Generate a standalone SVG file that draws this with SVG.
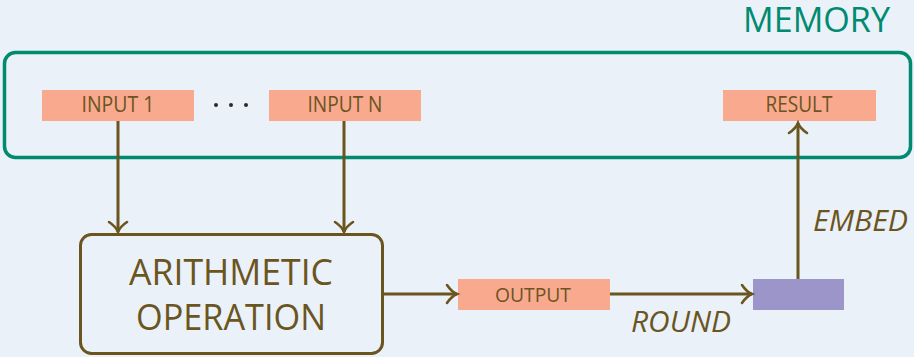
<svg xmlns="http://www.w3.org/2000/svg" width="914" height="357" viewBox="0 0 914 357">
  <style>
    .lbl { font-family: "Open Sans", "Noto Sans", sans-serif; fill: #6b551f; }
    .cell { fill: #f9a98e; }
    .wire { stroke: #6b551f; stroke-width: 3; fill: none; }
  </style>
  <defs>
    <marker id="tip" markerUnits="userSpaceOnUse" markerWidth="24" markerHeight="24" viewBox="-12 -12 24 24" refX="0" refY="0" orient="auto">
      <path d="M-10,-9 C-6,-3 -2,-0.8 0,0 C-2,0.8 -6,3 -10,9" stroke="#6b551f" stroke-width="2.6" fill="none" stroke-linecap="round"/>
    </marker>
  </defs>
  <rect x="0" y="0" width="914" height="357" fill="#eaf1f9"/>

  <g id="memory">
    <rect x="4.5" y="52.5" width="906" height="105" rx="11" fill="none" stroke="#008a70" stroke-width="3.5"/>
    <text x="890" y="32" text-anchor="end" font-family="Open Sans, Noto Sans, sans-serif" font-size="34" fill="#008a70" textLength="147" lengthAdjust="spacingAndGlyphs">MEMORY</text>
  </g>

  <g id="input1">
    <rect class="cell" x="42" y="90" width="152" height="31"/>
    <text class="lbl" x="118" y="112" text-anchor="middle" font-size="21" textLength="73" lengthAdjust="spacingAndGlyphs">INPUT 1</text>
  </g>
  <g id="ellipsis" fill="#2a2a2a">
    <circle cx="216" cy="105" r="2"/>
    <circle cx="231" cy="105" r="2"/>
    <circle cx="246" cy="105" r="2"/>
  </g>
  <g id="inputN">
    <rect class="cell" x="269" y="90" width="152" height="31"/>
    <text class="lbl" x="345" y="112" text-anchor="middle" font-size="21" textLength="75" lengthAdjust="spacingAndGlyphs">INPUT N</text>
  </g>
  <g id="result">
    <rect class="cell" x="723" y="90" width="153" height="31"/>
    <text class="lbl" x="799" y="112" text-anchor="middle" font-size="21" textLength="67" lengthAdjust="spacingAndGlyphs">RESULT</text>
  </g>

  <g id="arithmetic">
    <rect x="80.5" y="234.5" width="302" height="119" rx="11" fill="none" stroke="#6b551f" stroke-width="3"/>
    <text class="lbl" x="231" y="285" text-anchor="middle" font-size="36" textLength="204" lengthAdjust="spacingAndGlyphs">ARITHMETIC</text>
    <text class="lbl" x="231" y="330" text-anchor="middle" font-size="36" textLength="190" lengthAdjust="spacingAndGlyphs">OPERATION</text>
  </g>

  <g id="output">
    <rect class="cell" x="458" y="279" width="152" height="31"/>
    <text class="lbl" x="533" y="302" text-anchor="middle" font-size="20" textLength="76" lengthAdjust="spacingAndGlyphs">OUTPUT</text>
  </g>

  <g id="embedding">
    <rect x="753" y="279" width="91" height="31" fill="#9b95c9"/>
  </g>

  <g id="connectors">
    <path class="wire" d="M118,121 V232" marker-end="url(#tip)"/>
    <path class="wire" d="M344,121 V232" marker-end="url(#tip)"/>
    <path class="wire" d="M383,294 H457" marker-end="url(#tip)"/>
    <path class="wire" d="M610,294 H752" marker-end="url(#tip)"/>
    <path class="wire" d="M798,279 V123" marker-end="url(#tip)"/>
    <text class="lbl" x="631" y="332" font-size="30" font-style="italic" textLength="100" lengthAdjust="spacingAndGlyphs">ROUND</text>
    <text class="lbl" x="813" y="231" font-size="30" font-style="italic" textLength="95" lengthAdjust="spacingAndGlyphs">EMBED</text>
  </g>
</svg>
